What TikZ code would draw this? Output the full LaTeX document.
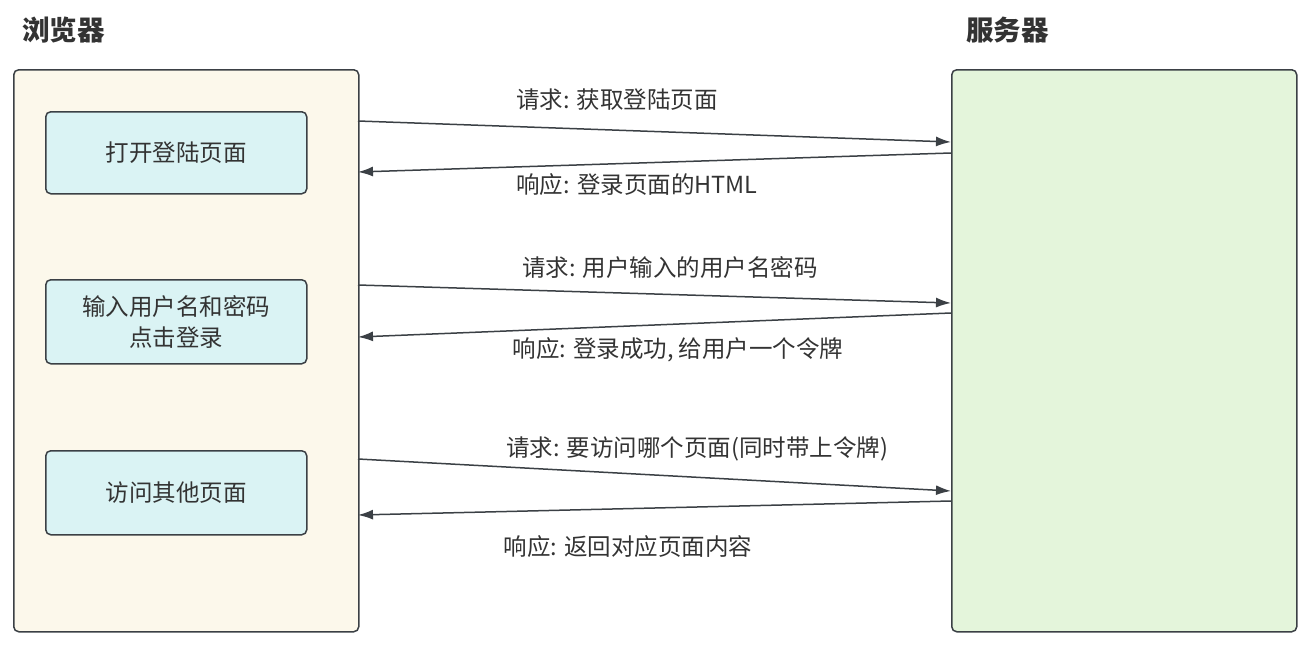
\documentclass[tikz,border=0pt]{standalone}
\usepackage{fontspec}
\setmainfont{Noto Sans CJK SC}
\usetikzlibrary{arrows.meta}
\definecolor{edge}{HTML}{3B4045}
\definecolor{bfill}{HTML}{FCF8EB}
\definecolor{ifill}{HTML}{DAF3F4}
\definecolor{sfill}{HTML}{E4F5DB}
\definecolor{txt}{HTML}{333333}
\tikzset{
  panel/.style={draw=edge, line width=1.5pt, rounded corners=5pt, anchor=north west, inner sep=0pt},
  stepbox/.style={draw=edge, fill=ifill, line width=1.5pt, rounded corners=5pt, minimum width=261pt, anchor=north west, inner sep=0pt, text=txt, font=\fontsize{23.5}{31}\selectfont, align=center},
  msg/.style={draw=edge, line width=1.5pt, -{Latex[length=15pt,width=10pt]}},
  lbl/.style={text=txt, font=\fontsize{23.5}{28}\selectfont, inner sep=0pt},
  ttl/.style={text=txt, font=\fontsize{27.5}{32}\bfseries\selectfont, inner sep=0pt, anchor=west}
}
\begin{document}
\begin{tikzpicture}[x=1pt,y=-1pt]
\useasboundingbox (0,0) rectangle (1315,648);
\node[ttl] (tb) at (22,30) {浏览器};
\node[ttl] (ts) at (966,30) {服务器};
\node[panel, fill=bfill, minimum width=345pt, minimum height=562pt] (browser) at (13,69) {};
\node[panel, fill=sfill, minimum width=345pt, minimum height=562pt] (server) at (951,69) {};
\node[stepbox, minimum height=82pt] (s1) at (45,111) {打开登陆页面};
\node[stepbox, minimum height=84pt] (s2) at (45,279) {输入用户名和密码\\点击登录};
\node[stepbox, minimum height=84pt] (s3) at (45,450) {访问其他页面};
\coordinate (b1) at (358,121); \coordinate (v1) at (951,142);
\coordinate (v2) at (951,153); \coordinate (b2) at (358,172);
\coordinate (b3) at (358,285); \coordinate (v3) at (951,303);
\coordinate (v4) at (951,313); \coordinate (b4) at (358,337);
\coordinate (b5) at (358,459); \coordinate (v5) at (951,491);
\coordinate (v6) at (951,501); \coordinate (b6) at (358,515);
\draw[msg] (b1) -- (v1);
\draw[msg] (v2) -- (b2);
\draw[msg] (b3) -- (v3);
\draw[msg] (v4) -- (b4);
\draw[msg] (b5) -- (v5);
\draw[msg] (v6) -- (b6);
\node[lbl] (l1) at (617,100) {请求: 获取登陆页面};
\node[lbl] (l2) at (637,185) {响应: 登录页面的HTML};
\node[lbl] (l3) at (670,268) {请求: 用户输入的用户名密码};
\node[lbl] (l4) at (678,350) {响应: 登录成功, 给用户一个令牌};
\node[lbl] (l5) at (697,449) {请求: 要访问哪个页面(同时带上令牌)};
\node[lbl] (l6) at (628,547) {响应: 返回对应页面内容};
\end{tikzpicture}
\end{document}
